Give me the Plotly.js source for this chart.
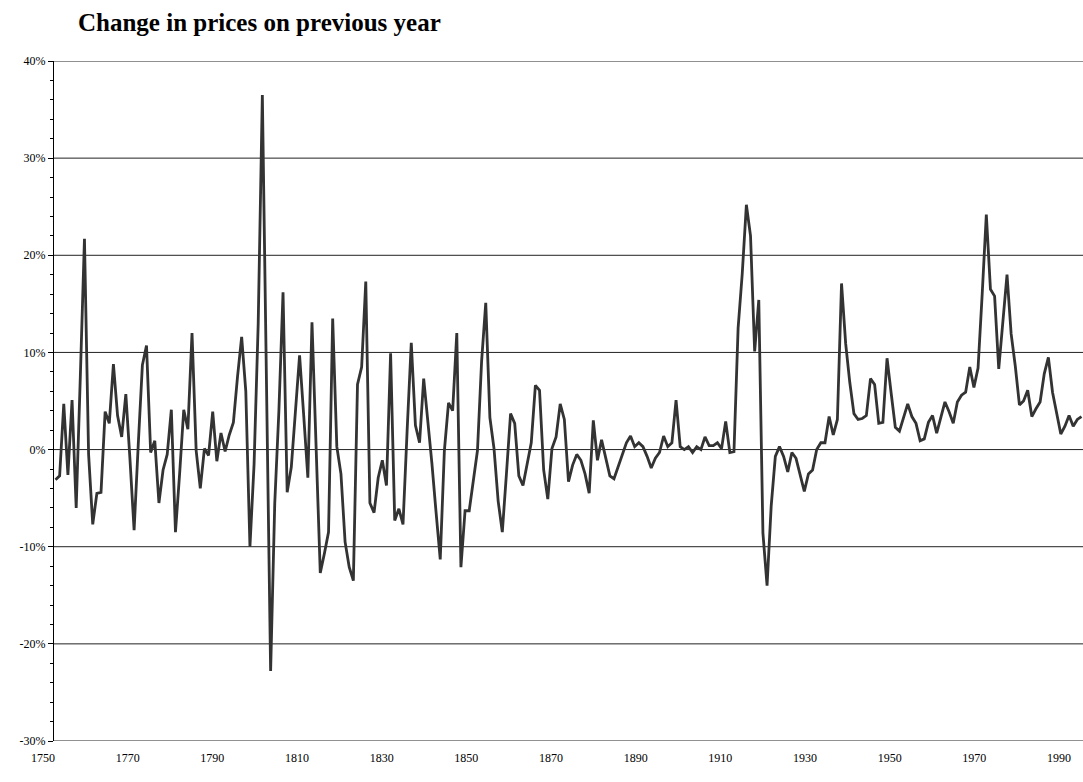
<!DOCTYPE html>
<html>
<head>
<meta charset="utf-8">
<script src="https://cdn.plot.ly/plotly-3.0.1.min.js"></script>
<style>html,body{margin:0;padding:0;background:#fff;}#chart{width:1083px;height:782px;}</style>
</head>
<body>
<div id="chart"></div>
<script>
// Years 1750-1998
const startYear = 1750;
const changePct = [
  -3.1, -2.7, 4.7, -2.6, 5.1, -6.0, 7.5, 21.7, -0.5, -7.7,      // 1750-1759
  -4.5, -4.4, 3.9, 2.7, 8.8, 3.5, 1.3, 5.7, -1.0, -8.3,         // 1760-1769
  0.5, 8.7, 10.7, -0.3, 0.9, -5.5, -2.1, -0.5, 4.1, -8.5,       // 1770-1779
  -2.5, 4.1, 2.1, 12.0, -0.1, -4.0, 0.1, -0.6, 3.9, -1.2,       // 1780-1789
  1.7, -0.2, 1.5, 2.8, 7.5, 11.6, 6.0, -10.0, -1.5, 13.0,       // 1790-1799
  36.5, 7.0, -22.8, -5.5, 4.0, 16.2, -4.4, -1.8, 4.0, 9.7,      // 1800-1809
  3.5, -2.9, 13.1, -1.0, -12.7, -10.7, -8.5, 13.5, 0.3, -2.5,   // 1810-1819
  -9.5, -12.1, -13.5, 6.7, 8.5, 17.3, -5.5, -6.5, -2.9, -1.1,   // 1820-1829
  -3.7, 9.9, -7.3, -6.1, -7.7, 2.0, 11.0, 2.5, 0.7, 7.3,        // 1830-1839
  3.0, -1.5, -6.5, -11.3, -0.1, 4.8, 4.0, 12.0, -12.1, -6.3,    // 1840-1849
  -6.3, -2.9, -0.1, 9.1, 15.1, 3.3, 0.1, -5.3, -8.5, -2.5,      // 1850-1859
  3.7, 2.7, -2.7, -3.7, -1.3, 0.7, 6.6, 6.1, -2.1, -5.1,        // 1860-1869
  0.1, 1.3, 4.7, 3.1, -3.3, -1.6, -0.5, -1.1, -2.5, -4.5,       // 1870-1879
  3.0, -1.1, 1.0, -0.8, -2.7, -3.0, -1.7, -0.5, 0.7, 1.4,       // 1880-1889
  0.3, 0.7, 0.3, -0.7, -1.9, -0.9, -0.3, 1.4, 0.3, 0.7,         // 1890-1899
  5.1, 0.3, 0.0, 0.3, -0.3, 0.3, 0.0, 1.3, 0.4, 0.4,            // 1900-1909
  0.7, 0.1, 2.9, -0.3, -0.2, 12.5, 18.1, 25.2, 22.0, 10.1,      // 1910-1919
  15.4, -8.6, -14.0, -5.8, -0.7, 0.3, -0.7, -2.3, -0.3, -0.9,   // 1920-1929
  -2.6, -4.3, -2.5, -2.1, 0.0, 0.7, 0.7, 3.4, 1.5, 3.1,         // 1930-1939
  17.1, 10.9, 6.9, 3.7, 3.1, 3.2, 3.5, 7.3, 6.7, 2.7,           // 1940-1949
  2.8, 9.4, 5.8, 2.3, 1.9, 3.3, 4.7, 3.4, 2.7, 0.9,             // 1950-1959
  1.1, 2.8, 3.5, 1.7, 3.3, 4.9, 3.9, 2.7, 4.9, 5.6,             // 1960-1969
  5.9, 8.5, 6.4, 8.4, 16.0, 24.2, 16.5, 15.8, 8.3, 13.4,        // 1970-1979
  18.0, 11.9, 8.6, 4.6, 5.0, 6.1, 3.4, 4.2, 4.9, 7.8,           // 1980-1989
  9.5, 5.9, 3.7, 1.6, 2.4, 3.5, 2.4, 3.1, 3.4                   // 1990-1998
];
const years = changePct.map((_, i) => startYear + i);
const yearLabels = [1750, 1770, 1790, 1810, 1830, 1850, 1870, 1890, 1910, 1930, 1950, 1970, 1990];
const pctTicks = [-30, -20, -10, 0, 10, 20, 30, 40];

const W = 1083, H = 782;
const plotLeft = 30, plotRight = 1083;
const axisPx = 53;
const axisPos = (axisPx - plotLeft) / (plotRight - plotLeft);

// data axis: 1750 sits half a category right of the value axis
const dataPxPerYear = 4.137;
const firstPx = 55.5;
const xRange = [1750 - (firstPx - plotLeft) / dataPxPerYear, 1750 + (plotRight - firstPx) / dataPxPerYear];
// label axis as drawn in the original (1750 label at ~43px, 1990 at ~1059px)
const labPxPerYear = (1059 - 43) / 240;
const x2Range = [1750 - (43 - plotLeft) / labPxPerYear, 1750 + (plotRight - 43) / labPxPerYear];

const serif = 'Liberation Serif, Times New Roman, serif';

const shapes = pctTicks.map(v => ({
  type: 'line', xref: 'paper', yref: 'y', x0: axisPos, x1: 1, y0: v, y1: v,
  line: {color: '#222', width: 1}, layer: 'below'
}));

const trace = {
  x: years, y: changePct, type: 'scatter', mode: 'lines',
  line: {color: '#333333', width: 2.8}, hoverinfo: 'x+y', xaxis: 'x', yaxis: 'y'
};
// carrier for the year-label axis (no visible marks)
const labelCarrier = {
  x: yearLabels, y: yearLabels.map(() => null), type: 'scatter', mode: 'lines',
  xaxis: 'x2', yaxis: 'y', hoverinfo: 'skip', showlegend: false, line: {width: 0}
};

const layout = {
  width: W, height: H,
  paper_bgcolor: '#fff', plot_bgcolor: '#fff',
  font: {family: serif, color: '#000'},
  margin: {l: plotLeft, r: W - plotRight, t: 61, b: 41, pad: 0},
  showlegend: false,
  title: {
    text: '<b>Change in prices on previous year</b>',
    font: {family: serif, size: 25, color: '#000'},
    x: 78 / W, xanchor: 'left', xref: 'container',
    y: 1 - 22 / H, yanchor: 'middle', yref: 'container'
  },
  xaxis: {
    range: xRange, visible: false, fixedrange: true
  },
  xaxis2: {
    overlaying: 'x', anchor: 'y', side: 'bottom', range: x2Range,
    tickmode: 'array', tickvals: yearLabels, ticktext: yearLabels.map(String),
    showgrid: false, zeroline: false, showline: false, ticks: '',
    ticklabelstandoff: 8,
    tickfont: {family: serif, size: 12, color: '#000'}
  },
  yaxis: {
    range: [-30, 40], anchor: 'free', position: axisPos,
    tickmode: 'array', tickvals: pctTicks, ticktext: pctTicks.map(v => v + '%'),
    showgrid: false, zeroline: false,
    showline: true, linecolor: '#000', linewidth: 1,
    ticks: 'outside', ticklen: 5, tickcolor: '#000', tickwidth: 1,
    minor: {dtick: 2, tick0: 0, ticks: 'outside', ticklen: 3, tickcolor: '#000', showgrid: false},
    tickfont: {family: serif, size: 12, color: '#000'}
  },
  shapes: shapes
};

Plotly.newPlot('chart', [trace, labelCarrier], layout, {displayModeBar: false, staticPlot: true});
</script>
</body>
</html>
